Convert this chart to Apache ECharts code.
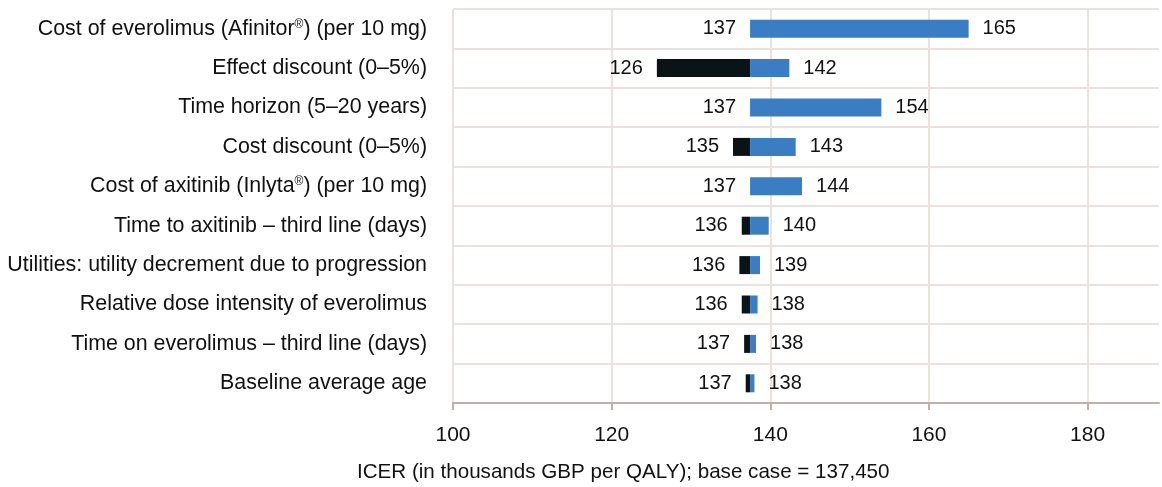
<!DOCTYPE html>
<html>
<head>
<meta charset="utf-8">
<script src="https://cdn.jsdelivr.net/npm/echarts@6/dist/echarts.min.js"></script>
<style>
html,body{margin:0;padding:0;background:#fff;}
#chart{width:1162px;height:487px;}
</style>
</head>
<body>
<div id="chart"></div>
<script>
var categories = [
  "Cost of everolimus (Afinitor\u00AE) (per 10 mg)",
  "Effect discount (0\u20135%)",
  "Time horizon (5\u201320 years)",
  "Cost discount (0\u20135%)",
  "Cost of axitinib (Inlyta\u00AE) (per 10 mg)",
  "Time to axitinib \u2013 third line (days)",
  "Utilities: utility decrement due to progression",
  "Relative dose intensity of everolimus",
  "Time on everolimus \u2013 third line (days)",
  "Baseline average age"
];
var baseCase = 137.45;
var lowValues  = [137.45, 125.7, 137.45, 135.3, 137.45, 136.4, 136.1, 136.4, 136.7, 136.9];
var highValues = [165.0, 142.4, 154.0, 143.2, 144.0, 139.8, 138.7, 138.4, 138.2, 138.0];
var lowLabels  = ["137", "126", "137", "135", "137", "136", "136", "136", "137", "137"];
var highLabels = ["165", "142", "154", "143", "144", "140", "139", "138", "138", "138"];
var xTicks = [100, 120, 140, 160, 180];
var axisTitle = "ICER (in thousands GBP per QALY); base case = 137,450";

var offsetData = lowValues.slice();
var blackData = lowValues.map(function (v) { return +(baseCase - v).toFixed(3); });
var blueData = highValues.map(function (v) { return +(v - baseCase).toFixed(3); });

var FONT = "'Liberation Sans', Arial, sans-serif";
var TXT = '#111111';
var GRID = '#e9e2de';
var chart = echarts.init(document.getElementById('chart'), null, {renderer: 'canvas'});
chart.setOption({
  animation: false,
  backgroundColor: '#ffffff',
  title: {
    text: axisTitle,
    left: 352,
    top: 457,
    textStyle: {fontFamily: FONT, fontSize: 20.6, fontWeight: 'normal', color: TXT}
  },
  grid: {left: 453, right: 0, top: 9, bottom: 84, containLabel: false},
  xAxis: {
    type: 'value',
    min: 100,
    max: 189,
    interval: 20,
    axisLine: {show: true, lineStyle: {color: '#bfb1a8', width: 2}},
    axisTick: {show: true, length: 7, customValues: xTicks, lineStyle: {color: '#bfb1a8', width: 2}},
    splitLine: {show: true, lineStyle: {color: [GRID, GRID, GRID, GRID, GRID, 'rgba(0,0,0,0)'], width: 2}},
    axisLabel: {
      margin: 22,
      fontFamily: FONT, fontSize: 21, color: TXT,
      formatter: function (v) { return xTicks.indexOf(v) >= 0 ? String(v) : ''; }
    }
  },
  yAxis: {
    type: 'category',
    inverse: true,
    data: categories,
    axisLine: {show: false},
    axisTick: {show: false},
    splitLine: {show: true, lineStyle: {color: GRID, width: 2}},
    axisLabel: {
      margin: 26, fontFamily: FONT, fontSize: 21.4, color: TXT,
      formatter: function (v) {
        return v.split('\u00AE').join('{sup|\u00AE}');
      },
      rich: {
        sup: {fontFamily: FONT, fontSize: 12, color: TXT, verticalAlign: 'top', padding: [0, 0, 8, 0]}
      }
    }
  },
  series: [
    {
      name: 'offset', type: 'bar', stack: 't', barWidth: 18,
      data: offsetData,
      itemStyle: {color: 'rgba(0,0,0,0)'},
      emphasis: {disabled: true},
      label: {
        show: true, position: 'insideRight', distance: 14,
        fontFamily: FONT, fontSize: 20, color: TXT,
        formatter: function (p) { return lowLabels[p.dataIndex]; }
      }
    },
    {
      name: 'low', type: 'bar', stack: 't', barWidth: 18,
      data: blackData,
      itemStyle: {color: '#0a1316'}
    },
    {
      name: 'high', type: 'bar', stack: 't', barWidth: 18,
      data: blueData,
      itemStyle: {color: '#3a7dc2'},
      label: {
        show: true, position: 'right', distance: 14,
        fontFamily: FONT, fontSize: 20, color: TXT,
        formatter: function (p) { return highLabels[p.dataIndex]; }
      }
    }
  ]
});
</script>
</body>
</html>
